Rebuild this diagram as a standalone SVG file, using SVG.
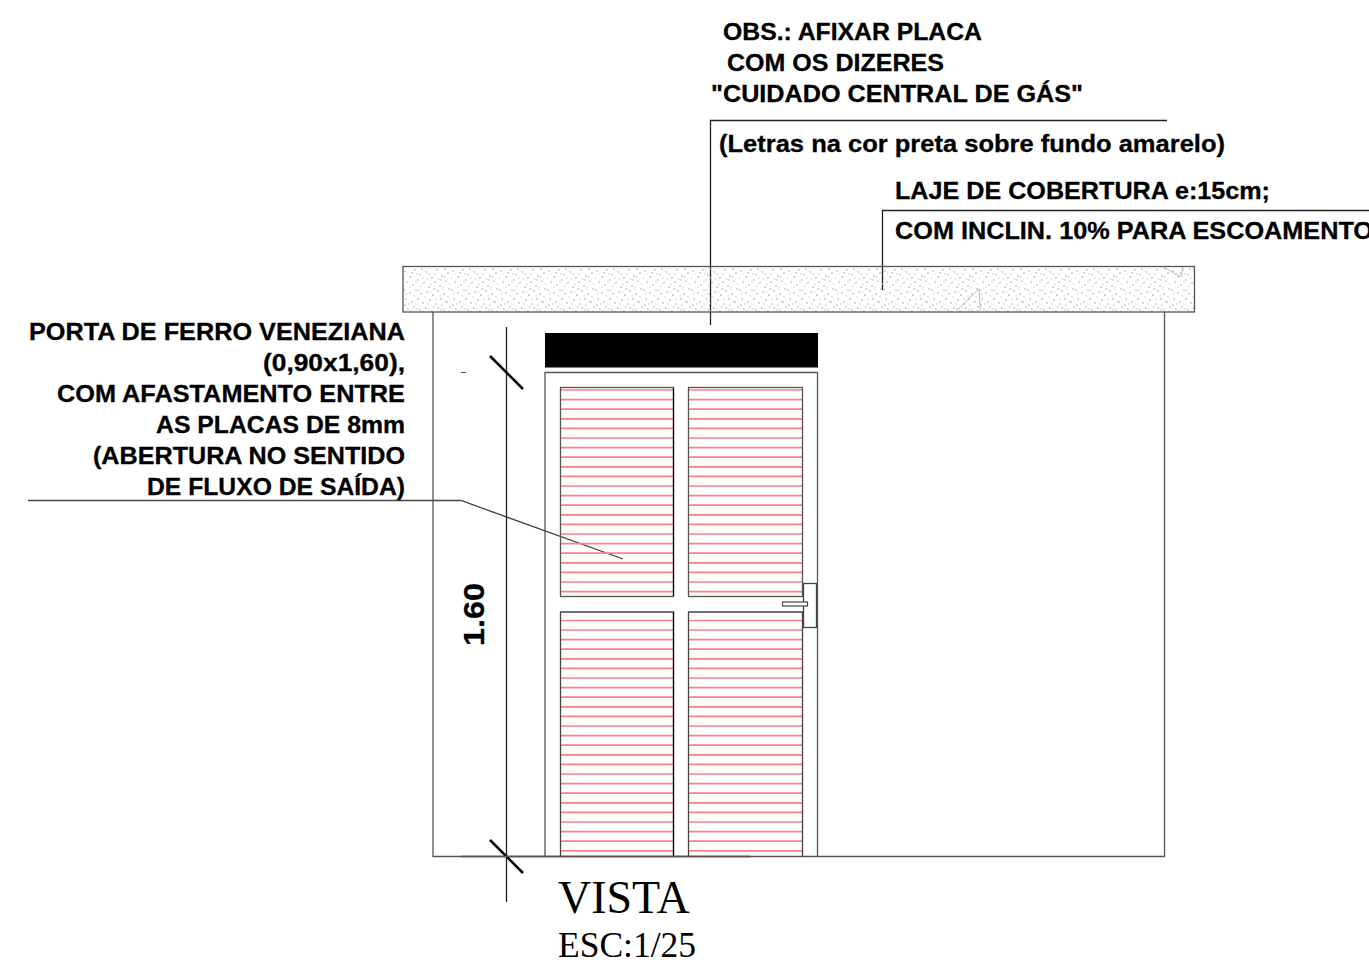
<svg xmlns="http://www.w3.org/2000/svg" width="1369" height="963" viewBox="0 0 1369 963">
<style>
.t{font-family:"Liberation Sans",Arial,sans-serif;font-weight:bold;font-size:24.500px;fill:#000;stroke:#000;stroke-width:.3px}
.s{font-family:"Liberation Serif","Times New Roman",serif;fill:#000}
.g{fill:none;stroke:#555;stroke-width:1.3}
.k{fill:none;stroke:#222;stroke-width:1.3}
.tick{fill:none;stroke:#000;stroke-width:2.600}
.hatch{stroke:#ff8080;stroke-width:1.700}
.hair{fill:none;stroke:#bbb;stroke-width:1}
</style>
<defs>
<pattern id="stip" width="48" height="45" patternUnits="userSpaceOnUse" patternTransform="translate(403 267)">
<path d="M2 3v2M7 9v2M12 2v2M17 7v2M23 4v2M29 10v2M34 2v2M39 8v2M45 5v2M4 14v2M10 17v2M15 12v2M21 15v2M26 19v2M32 14v2M37 18v2M43 13v2M1 22v2M7 25v2M13 22v2M18 26v2M24 24v2M30 27v2M35 23v2M41 26v2M46 21v2M3 31v2M9 34v2M15 31v2M20 35v2M27 32v2M33 36v2M38 31v2M44 34v2M5 41v2M11 39v2M17 42v2M23 40v2M29 43v2M35 40v2M41 42v2M47 39v2M19 1v2M42 1v2M2 37v2M26 6v2M9 5v2M31 21v2M38 12v2" stroke="#adadad" stroke-width="1" fill="none"/>
<path d="M5 6v2M14 6v2M20 10v2M32 6v2M42 9v2M7 19v2M18 18v2M28 16v2M40 20v2M11 28v2M22 29v2M37 28v2M45 29v2M6 36v2M13 36v2M25 36v2M31 39v2M39 37v2M46 43v2M20 43v2M0 10v2M36 11v2M13 14v2M24 11v2M47 16v2M3 26v2M16 22v2M27 24v2M33 31v2M43 33v2M8 42v2M14 41v2M26 41v2M38 42v2" stroke="#cfcfcf" stroke-width="1" fill="none"/>
</pattern>
</defs>

<g id="connectors">
<path class="k" d="M1167 120.500H710.500V325"/>
<path class="k" d="M1369 210.500H882.500V290"/>
<path d="M28 500.500H461L623 559" fill="none" stroke="#444" stroke-width="1.3"/>
<path class="k" d="M506.500 327V902"/>
<path class="tick" d="M490 356L523 389M490 840L523 873"/>
<path d="M461 372.500H466" stroke="#555" stroke-width="1"/>
<path d="M461 856.500H750" stroke="#222" stroke-width="1.4"/>
</g>

<g id="wall"><path class="g" d="M433 312V856.500H1164.500V312"/></g>

<g id="slab">
<rect x="403" y="266.500" width="791.500" height="45.500" fill="url(#stip)" stroke="#555" stroke-width="1.3"/>
<path class="hair" d="M955 312L979 289L980.500 312M1163 267L1181 277L1183 267"/>
</g>

<g id="sign"><rect x="545" y="333" width="273" height="34.500" fill="#000"/></g>

<g id="door">
<path class="g" d="M545 856.500V372.500H817.500V856.500"/>
<g id="panels">
<path class="hatch" d="M561 390H673M689 390H802M561 399.600H673M689 399.600H802M561 409.200H673M689 409.200H802M561 418.800H673M689 418.800H802M561 428.400H673M689 428.400H802M561 438H673M689 438H802M561 447.600H673M689 447.600H802M561 457.200H673M689 457.200H802M561 466.800H673M689 466.800H802M561 476.400H673M689 476.400H802M561 486H673M689 486H802M561 495.600H673M689 495.600H802M561 505.200H673M689 505.200H802M561 514.800H673M689 514.800H802M561 524.400H673M689 524.400H802M561 534H673M689 534H802M561 543.600H673M689 543.600H802M561 553.200H673M689 553.200H802M561 562.800H673M689 562.800H802M561 572.400H673M689 572.400H802M561 582H673M689 582H802M561 591.600H673M689 591.600H802"/>
<path class="hatch" d="M561 620.500H673M689 620.500H802M561 630H673M689 630H802M561 639.600H673M689 639.600H802M561 649.200H673M689 649.200H802M561 658.800H673M689 658.800H802M561 668.400H673M689 668.400H802M561 678H673M689 678H802M561 687.600H673M689 687.600H802M561 697.200H673M689 697.200H802M561 706.800H673M689 706.800H802M561 716.400H673M689 716.400H802M561 726H673M689 726H802M561 735.600H673M689 735.600H802M561 745.200H673M689 745.200H802M561 754.800H673M689 754.800H802M561 764.400H673M689 764.400H802M561 774H673M689 774H802M561 783.600H673M689 783.600H802M561 793.200H673M689 793.200H802M561 802.800H673M689 802.800H802M561 812.400H673M689 812.400H802M561 822H673M689 822H802M561 831.600H673M689 831.600H802M561 841.200H673M689 841.200H802M561 850.800H673M689 850.800H802"/>
<rect x="560.500" y="387.500" width="113" height="209" fill="none" stroke="#555" stroke-width="1.3"/>
<rect x="688.500" y="387.500" width="114" height="209" fill="none" stroke="#555" stroke-width="1.3"/>
<path d="M560.500 856.500V612H673.500V856.500M688.500 856.500V612H802.500V856.500" fill="none" stroke="#444" stroke-width="1.3"/>
<path d="M673.500 388V596M673.500 612V856" stroke="#000" stroke-width="1.2"/>
</g>
<g id="handle">
<rect x="803.500" y="583.500" width="13" height="44" fill="#fff" stroke="#444" stroke-width="1.3"/>
<rect x="782.500" y="602" width="25" height="4" fill="#fff" stroke="#444" stroke-width="1.2"/>
</g>
</g>

<g id="labels">
<text class="t" x="723" y="40" textLength="259" lengthAdjust="spacingAndGlyphs">OBS.: AFIXAR PLACA</text>
<text class="t" x="727" y="71" textLength="217" lengthAdjust="spacingAndGlyphs">COM OS DIZERES</text>
<text class="t" x="711" y="102" textLength="372" lengthAdjust="spacingAndGlyphs">"CUIDADO CENTRAL DE GÁS"</text>
<text class="t" x="719" y="152" textLength="506" lengthAdjust="spacingAndGlyphs">(Letras na cor preta sobre fundo amarelo)</text>
<text class="t" x="895" y="199" textLength="375" lengthAdjust="spacingAndGlyphs">LAJE DE COBERTURA e:15cm;</text>
<text class="t" x="895" y="239" textLength="478" lengthAdjust="spacingAndGlyphs">COM INCLIN. 10% PARA ESCOAMENTO</text>
<text class="t" x="29" y="340" textLength="376" lengthAdjust="spacingAndGlyphs">PORTA DE FERRO VENEZIANA</text>
<text class="t" x="263" y="371" textLength="142" lengthAdjust="spacingAndGlyphs">(0,90x1,60),</text>
<text class="t" x="57" y="402" textLength="348" lengthAdjust="spacingAndGlyphs">COM AFASTAMENTO ENTRE</text>
<text class="t" x="156" y="433" textLength="249" lengthAdjust="spacingAndGlyphs">AS PLACAS DE 8mm</text>
<text class="t" x="93" y="464" textLength="312" lengthAdjust="spacingAndGlyphs">(ABERTURA NO SENTIDO</text>
<text class="t" x="147" y="495" textLength="258" lengthAdjust="spacingAndGlyphs">DE FLUXO DE SAÍDA)</text>
<text class="t" transform="translate(484 646) rotate(-90)" style="font-size:29px" textLength="63" lengthAdjust="spacingAndGlyphs">1.60</text>
<text class="s" x="558" y="913" font-size="46">VISTA</text>
<text class="s" x="558" y="957" font-size="35.500">ESC:1/25</text>
</g>
</svg>
